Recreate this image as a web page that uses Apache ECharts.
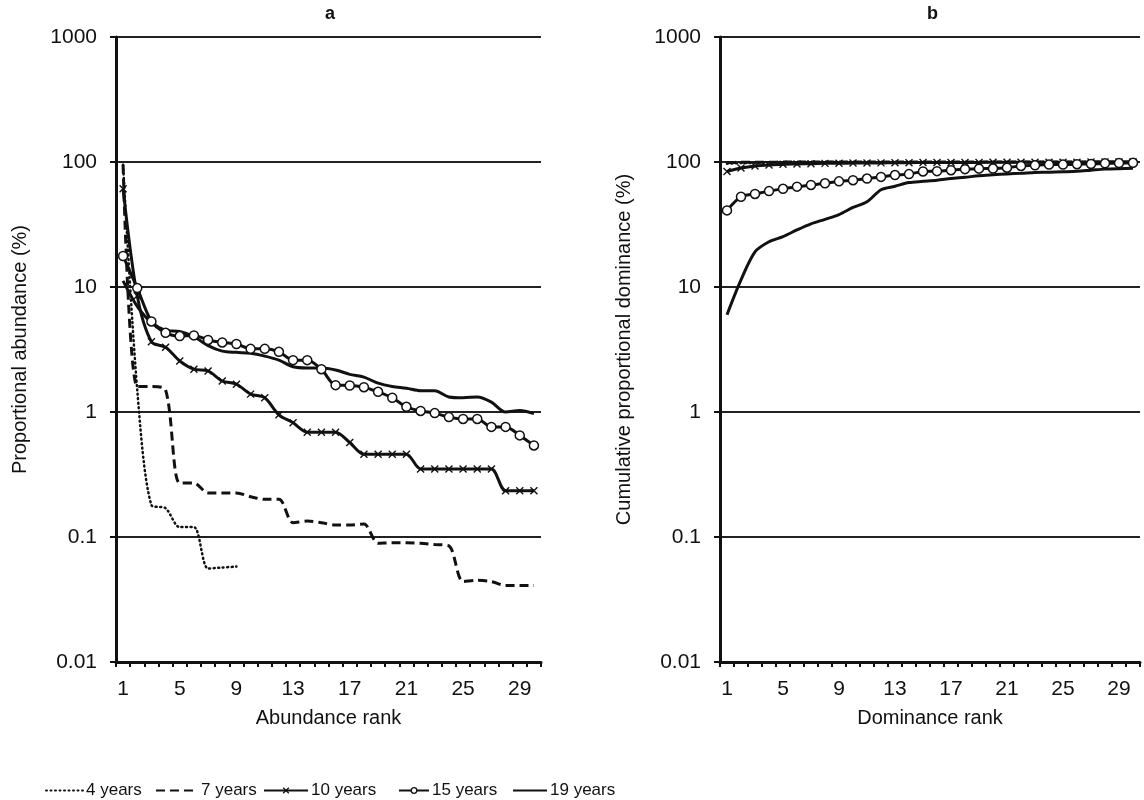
<!DOCTYPE html>
<html><head><meta charset="utf-8">
<script src="https://cdn.jsdelivr.net/npm/echarts@6/dist/echarts.min.js"></script>
<style>html,body{margin:0;padding:0;background:#fff}#c{width:1144px;height:800px}</style>
</head><body><div id="c"></div>
<script>
const ranks = [1,2,3,4,5,6,7,8,9,10,11,12,13,14,15,16,17,18,19,20,21,22,23,24,25,26,27,28,29,30];
const yTickLabels = ['0.01','0.1','1','10','100','1000'];
const names = ['4 years','7 years','10 years','15 years','19 years'];

// panel a: proportional abundance (%)
const abund4  = [95, 1.5, 0.18, 0.17, 0.12, 0.12, 0.056, 0.057, 0.058];
const abund7  = [95, 1.6, 1.6, 1.5, 0.27, 0.27, 0.225, 0.225, 0.225, 0.21, 0.2, 0.2, 0.13, 0.134, 0.13, 0.125, 0.125, 0.127, 0.089, 0.09, 0.09, 0.089, 0.087, 0.085, 0.044, 0.045, 0.044, 0.041, 0.041, 0.041];
const abund10 = [61, 8.5, 3.65, 3.3, 2.56, 2.2, 2.13, 1.77, 1.67, 1.39, 1.3, 0.95, 0.82, 0.69, 0.69, 0.69, 0.57, 0.46, 0.46, 0.46, 0.46, 0.35, 0.35, 0.35, 0.35, 0.35, 0.35, 0.234, 0.234, 0.234];
const abund15 = [17.7, 9.8, 5.3, 4.3, 4.05, 4.1, 3.77, 3.6, 3.5, 3.2, 3.2, 3.03, 2.6, 2.6, 2.2, 1.64, 1.63, 1.58, 1.45, 1.3, 1.1, 1.02, 0.98, 0.91, 0.88, 0.88, 0.76, 0.76, 0.65, 0.54];
const abund19 = [11.2, 7.0, 5.2, 4.5, 4.4, 4.0, 3.4, 3.07, 3.0, 2.95, 2.8, 2.6, 2.3, 2.25, 2.25, 2.17, 2.0, 1.9, 1.7, 1.6, 1.55, 1.48, 1.48, 1.32, 1.3, 1.32, 1.2, 1.0, 1.03, 0.97];

// panel b: cumulative proportional dominance (%)
const dom4  = [97, 98, 98.5, 99, 99.2, 99.4, 99.6, 99.8, 100];
const dom7  = [99, 99.5, 99.6, 99.7, 99.8, 99.8, 99.8, 99.9, 99.9, 99.9, 99.9, 99.9, 100, 100, 100, 100, 100, 100, 100, 100, 100, 100, 100, 100, 100, 100, 100, 100, 100, 100];
const dom10 = [84, 89.5, 93, 94.5, 96, 96.5, 97, 97.5, 97.8, 98, 98.2, 98.4, 98.6, 98.8, 99, 99, 99.1, 99.2, 99.3, 99.4, 99.5, 99.5, 99.6, 99.6, 99.7, 99.7, 99.8, 99.8, 99.9, 100];
const dom15 = [41, 52.7, 55.5, 58.5, 61, 63.5, 65.5, 67.5, 70, 71.5, 73.7, 76, 78.6, 80, 84, 84.5, 86, 87.7, 88.5, 88.6, 90, 93, 94, 95.3, 95.3, 96, 96.5, 97.5, 98, 98.5];
const dom19 = [6, 11.4, 19.1, 23, 25.3, 28.6, 32, 34.8, 38, 43.3, 48, 60, 64, 68.5, 70, 71.5, 73.7, 75.5, 77.6, 79, 80.3, 81.2, 82.5, 82.8, 83.5, 84.3, 86, 87.7, 88.5, 89];

const FONT = 'Liberation Sans, Arial, sans-serif';
const crossPath = 'path://M0,0L10,10M10,0L0,10';

function styleFor(i) {
  const base = { type: 'line', smooth: 0.3, lineStyle: { color: '#111', width: 3 }, itemStyle: { color: '#111' }, z: 3 };
  if (i === 0) return Object.assign(base, { symbol: 'none', lineStyle: { color: '#111', width: 2.5, type: [1, 3.5], cap: 'round' } });
  if (i === 1) return Object.assign(base, { symbol: 'none', lineStyle: { color: '#111', width: 3, type: [9, 5] } });
  if (i === 2) return Object.assign(base, { symbol: crossPath, symbolSize: 7, itemStyle: { color: 'none', borderColor: '#111', borderWidth: 1.4 } });
  if (i === 3) return Object.assign(base, { symbol: 'circle', symbolSize: 9, itemStyle: { color: '#fff', borderColor: '#111', borderWidth: 1.5 } });
  return Object.assign(base, { symbol: 'none' });
}

const aData = [abund4, abund7, abund10, abund15, abund19];
const bData = [dom4, dom7, dom10, dom15, dom19];
const series = [];
names.forEach((n, i) => {
  series.push(Object.assign(styleFor(i), { name: n, xAxisIndex: 0, yAxisIndex: 0, data: aData[i] }));
});
names.forEach((n, i) => {
  series.push(Object.assign(styleFor(i), { name: n, xAxisIndex: 1, yAxisIndex: 1, data: bData[i] }));
});

function xAxis(idx, name) {
  return {
    type: 'category', gridIndex: idx, data: ranks, boundaryGap: true,
    name: name, nameLocation: 'middle', nameGap: 46,
    nameTextStyle: { fontFamily: FONT, fontSize: 20, color: '#111' },
    axisLine: { lineStyle: { color: '#111', width: 3 } },
    axisTick: { show: true, interval: 0, length: 5, lineStyle: { color: '#111', width: 2 } },
    axisLabel: { interval: 3, margin: 17, fontFamily: FONT, fontSize: 21, color: '#111' },
    splitLine: { show: false }
  };
}
function yAxis(idx, name) {
  return {
    type: 'log', logBase: 10, gridIndex: idx, min: 0.01, max: 1000,
    name: name, nameLocation: 'middle', nameGap: 86,
    nameTextStyle: { fontFamily: FONT, fontSize: 20, color: '#111' },
    axisLine: { show: true, lineStyle: { color: '#111', width: 3 } },
    axisTick: { show: true, length: 6, lineStyle: { color: '#111', width: 2 } },
    axisLabel: { margin: 19, fontFamily: FONT, fontSize: 21, color: '#111',
      formatter: v => yTickLabels[Math.round(Math.log10(v)) + 2] },
    splitLine: { show: true, lineStyle: { color: '#222', width: 2 } },
    minorTick: { show: false }
  };
}

const legendLefts = [40, 150, 258, 393, 507];
const legendIconW = [37, 42, 44, 30, 34];
const legendSym = [
  { color: 'rgba(0,0,0,0)', borderWidth: 0 },
  { color: 'rgba(0,0,0,0)', borderWidth: 0 },
  { color: 'rgba(0,0,0,0)', borderColor: '#111', borderWidth: 1.3 },
  { color: '#fff', borderColor: '#111', borderWidth: 1.3 },
  { color: 'rgba(0,0,0,0)', borderWidth: 0 }
];
const legends = names.map((n, i) => ({
  data: [n], left: legendLefts[i], top: 777, itemWidth: legendIconW[i], itemHeight: 7, itemGap: 3,
  itemStyle: legendSym[i],
  textStyle: { fontFamily: FONT, fontSize: 17, color: '#111', padding: [0, 0, 0, -2] }
}));

const chart = echarts.init(document.getElementById('c'), null, { renderer: 'canvas' });
chart.setOption({
  backgroundColor: '#fff',
  animation: false,
  title: [
    { text: 'a', left: 320, top: 0, textStyle: { fontFamily: FONT, fontSize: 18, fontWeight: 'bold', color: '#111' } },
    { text: 'b', left: 922, top: 0, textStyle: { fontFamily: FONT, fontSize: 18, fontWeight: 'bold', color: '#111' } }
  ],
  legend: legends,
  grid: [
    { left: 116, right: 603, top: 37, bottom: 138 },
    { left: 720, right: 4, top: 37, bottom: 138 }
  ],
  xAxis: [xAxis(0, 'Abundance rank'), xAxis(1, 'Dominance rank')],
  yAxis: [yAxis(0, 'Proportional abundance (%)'), yAxis(1, 'Cumulative proportional dominance (%)')],
  series: series
});
</script>
</body></html>
